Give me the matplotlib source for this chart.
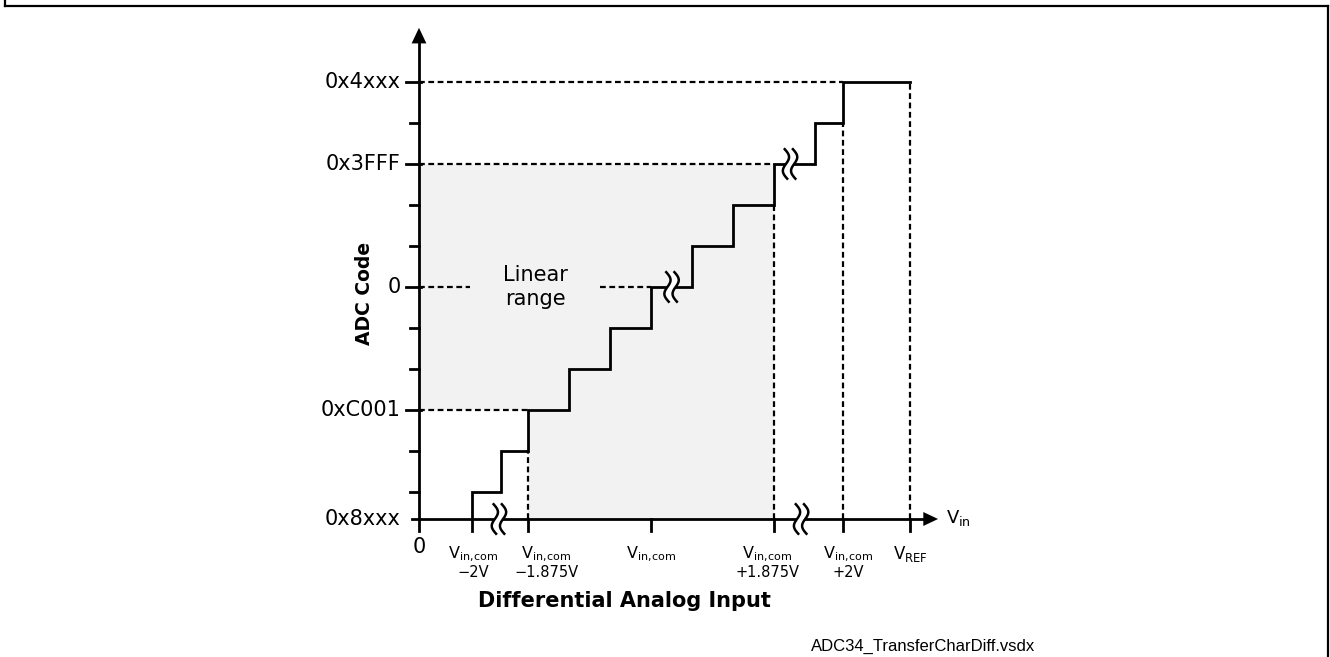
import numpy as np
import matplotlib.pyplot as plt

# schematic units: one code step = 41 px, origin at the axis corner
U = 41.0
ORIGIN = (419, 519)
W, H = 1330, 657

# y axis (ADC code)
code_labels = ["0x8xxx", "0xC001", "0", "0x3FFF", "0x4xxx"]
code_levels = [0.0, 2.66, 5.66, 8.66, 10.66]
minor_levels = [0.66, 1.66, 3.66, 4.66, 6.66, 7.66, 9.66]

# x axis (differential input)
vin_pos = [1.29, 2.66, 5.66, 8.66, 10.34, 11.98]
VCOM = r"V$_{\mathrm{in,\!com}}$"
vin_top = [VCOM, VCOM, VCOM, VCOM, VCOM, r"V$_{\mathrm{REF}}$"]
vin_bot = ["\u22122V", "\u22121.875V", "", "+1.875V", "+2V", ""]
# where each label sits (not always centred on its tick)
vin_lab_x = [1.32, 3.1, 5.66, 8.49, 10.47, 11.98]

# staircase transfer curve
step_x = [1.29, 1.29, 2.0, 2.66, 3.66, 4.66, 5.66, 6.66, 7.66, 8.66, 9.66, 10.34, 11.98]
step_y = [0.0, 0.66, 1.66, 2.66, 3.66, 4.66, 5.66, 6.66, 7.66, 8.66, 9.66, 10.66, 10.66]

# linear range limits (code level / input position)
lin_lo, lin_hi = 2.66, 8.66

# break marks (x, y)
breaks = [(1.95, 0.0), (9.32, 0.0), (6.16, 5.66), (9.05, 8.66)]

fig = plt.figure(figsize=(W / 100, H / 100), dpi=100)
ax = fig.add_axes([0, 0, 1, 1])
ax.set_xlim(-ORIGIN[0] / U, (W - ORIGIN[0]) / U)
ax.set_ylim(-(H - ORIGIN[1]) / U, ORIGIN[1] / U)
ax.axis("off")

# outer frame
for xs, ys in [([5, 5], [0, 6]), ([5, 1328], [6, 6]), ([1328, 1328], [6, 657])]:
    fig.add_artist(plt.Line2D([x / W for x in xs], [1 - y / H for y in ys],
                              color="black", lw=1.6))

# shaded linear range
ax.fill([0, 0, lin_hi, lin_hi, lin_lo, lin_lo],
        [lin_lo, lin_hi, lin_hi, 0, 0, lin_lo],
        color="#f2f2f2", lw=0, zorder=0)

dash = dict(color="black", lw=1.6, ls=(0, (2.6, 1.6)), zorder=1)
# horizontal guides
ax.plot([0, step_x[-2]], [step_y[-1]] * 2, **dash)
ax.plot([0, lin_hi], [lin_hi] * 2, **dash)
ax.plot([0, lin_lo], [lin_lo] * 2, **dash)
ax.plot([0, 1.24], [code_levels[2]] * 2, **dash)
ax.plot([4.41, code_levels[2]], [code_levels[2]] * 2, **dash)
# vertical guides
ax.plot([lin_lo, lin_lo], [0, lin_lo - 1], **dash)
ax.plot([lin_hi, lin_hi], [0, lin_hi - 1], **dash)
ax.plot([vin_pos[4], vin_pos[4]], [0, step_y[-3]], **dash)
ax.plot([vin_pos[5], vin_pos[5]], [0, step_y[-1]], **dash)

# transfer curve
ax.step(step_x, step_y, where="post", color="black", lw=2, zorder=3,
        solid_joinstyle="miter")

# axes with arrows
ax.plot([0, 0], [-0.3, 11.6], color="black", lw=2, zorder=4)
ax.fill([-0.18, 0.18, 0], [11.6, 11.6, 11.98], color="black", lw=0, zorder=4)
ax.plot([-0.17, 12.3], [0, 0], color="black", lw=2, zorder=4)
ax.fill([12.3, 12.3, 12.66], [-0.17, 0.17, 0], color="black", lw=0, zorder=4)

# y ticks
for lv, lab in zip(code_levels, code_labels):
    if lv > 0:
        ax.plot([-0.32, 0.05], [lv, lv], color="black", lw=2, zorder=4)
    ax.text(-0.45, lv, lab, ha="right", va="center", fontsize=15)
for lv in minor_levels:
    ax.plot([-0.22, 0], [lv, lv], color="black", lw=2, zorder=4)

# x ticks
for xp, lx, t1, t2 in zip(vin_pos, vin_lab_x, vin_top, vin_bot):
    ax.plot([xp, xp], [-0.3, 0], color="black", lw=2, zorder=4)
    ax.text(lx, -0.86, t1, ha="center", va="center",
            fontsize=12 if "REF" in t1 else 11.5)
    if t2:
        ax.text(lx, -1.3, t2, ha="center", va="center", fontsize=10.5)
ax.text(0, -0.68, "0", ha="center", va="center", fontsize=15)
ax.text(12.85, 0.02, r"V$_{\mathrm{in}}$", ha="left", va="center", fontsize=13)

# break marks
t = np.linspace(0, 1, 60)
for bx, by in breaks:
    yy = by + 0.36 - 0.72 * t
    xl = bx - 0.1 + 0.09 * np.sin(2 * np.pi * t) + 0.06 * (t - 0.5)
    xr = xl + 0.2
    ax.fill(np.r_[xl, xr[::-1]], np.r_[yy, yy[::-1]], color="white", lw=0, zorder=5)
    ax.plot(xl, yy, color="black", lw=1.8, zorder=6)
    ax.plot(xr, yy, color="black", lw=1.8, zorder=6)

# labels
ax.text(2.83, 5.66, "Linear\nrange", ha="center", va="center", fontsize=15,
        linespacing=1.25)
ax.text(-1.34, 5.5, "ADC Code", rotation=90, ha="center", va="center",
        fontsize=13.5, fontweight="bold")
ax.text(5.0, -2.0, "Differential Analog Input", ha="center", va="center",
        fontsize=15, fontweight="bold")
ax.text(12.3, -3.1, "ADC34_TransferCharDiff.vsdx", ha="center", va="center",
        fontsize=12, family="Liberation Sans")

fig.savefig("out.png", dpi=100)
